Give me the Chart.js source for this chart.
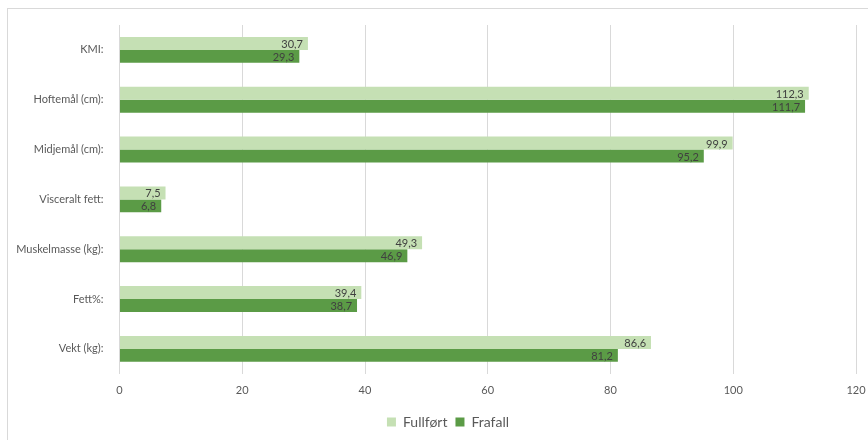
<!DOCTYPE html>
<html>
<head>
<meta charset="utf-8">
<script src="https://cdn.jsdelivr.net/npm/chart.js@4/dist/chart.umd.min.js"></script>
<style>
  html, body { margin: 0; padding: 0; background: #fff; }
  #wrap { position: relative; width: 868px; height: 440px; overflow: hidden; }
  #frame { position: absolute; left: 7px; top: 8px; width: 900px; height: 500px; border: 1px solid #d9d9d9; }
  canvas { position: absolute; left: 0; top: 0; }
</style>
</head>
<body>
<div id="wrap">
  <div id="frame"></div>
  <canvas id="chart" width="868" height="440"></canvas>
</div>
<script>
// Kroppsmål: de som fullførte vs. de som falt fra
const categories = ['KMI:', 'Hoftemål (cm):', 'Midjemål (cm):', 'Visceralt fett:', 'Muskelmasse (kg):', 'Fett%:', 'Vekt (kg):'];
const fullfort = [30.7, 112.3, 99.9, 7.5, 49.3, 39.4, 86.6];
const frafall = [29.3, 111.7, 95.2, 6.8, 46.9, 38.7, 81.2];
const xTicks = [0, 20, 40, 60, 80, 100, 120];

const FONT = "Lato, 'Liberation Sans', sans-serif";
const TEXT = '#595959';

// Verdi-etiketter innerst ved enden av hver stolpe (norsk desimalkomma)
const barLabels = {
  id: 'barLabels',
  afterDatasetsDraw(chart) {
    const ctx = chart.ctx;
    ctx.save();
    ctx.font = '11px ' + FONT;
    ctx.fillStyle = '#404040';
    ctx.textAlign = 'right';
    ctx.textBaseline = 'middle';
    chart.data.datasets.forEach((ds, i) => {
      chart.getDatasetMeta(i).data.forEach((bar, j) => {
        const txt = ds.data[j].toFixed(1).replace('.', ',');
        ctx.fillText(txt, bar.x - 5, bar.y + 1);
      });
    });
    ctx.restore();
  }
};

// Forklaringen står litt til høyre for midten, under plottet
const legendShift = {
  id: 'legendShift',
  afterLayout(chart) {
    chart.legend.left += 20;
    chart.legend.right += 20;
  }
};

new Chart(document.getElementById('chart'), {
  type: 'bar',
  data: {
    labels: categories,
    datasets: [
      { label: 'Fullført', data: fullfort, backgroundColor: '#c5e0b4' },
      { label: 'Frafall', data: frafall, backgroundColor: '#5b9b46' }
    ]
  },
  options: {
    indexAxis: 'y',
    responsive: false,
    animation: false,
    datasets: { bar: { barPercentage: 1, categoryPercentage: 0.52 } },
    layout: { padding: { left: 0, right: 12, top: 25, bottom: 1 } },
    plugins: {
      tooltip: { enabled: false },
      legend: {
        position: 'bottom',
        labels: {
          boxWidth: 9,
          boxHeight: 9,
          padding: 8,
          color: TEXT,
          font: { family: FONT, size: 14 }
        }
      }
    },
    scales: {
      x: {
        min: 0,
        max: 120,
        afterBuildTicks(scale) { scale.ticks = xTicks.map(v => ({ value: v })); },
        afterFit(scale) { scale.paddingLeft = 0; scale.paddingRight = 0; },
        grid: { color: '#d9d9d9', drawTicks: false },
        border: { display: false },
        ticks: { color: TEXT, padding: 10, font: { family: FONT, size: 11 } }
      },
      y: {
        afterFit(scale) { scale.width = 119.5; },
        grid: { display: false },
        border: { display: false },
        ticks: { color: TEXT, padding: 8, font: { family: FONT, size: 11 } }
      }
    }
  },
  plugins: [barLabels, legendShift]
});
</script>
</body>
</html>
